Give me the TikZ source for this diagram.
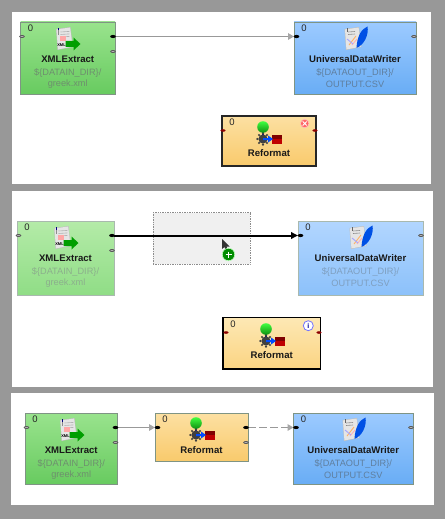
\documentclass[tikz,border=0pt]{standalone}
\usepackage{fontspec}
\setmainfont{Liberation Sans}
\usetikzlibrary{arrows.meta,shapes.geometric}
\definecolor{pagegray}{HTML}{989898}
\definecolor{grA}{HTML}{99E38D}\definecolor{grB}{HTML}{68CB60}
\definecolor{grC}{HTML}{B4EBA8}\definecolor{grD}{HTML}{90DD86}
\definecolor{blA}{HTML}{9CCAFF}\definecolor{blB}{HTML}{69ADF5}
\definecolor{blC}{HTML}{B2D6FF}\definecolor{blD}{HTML}{8CC1FA}
\definecolor{orA}{HTML}{FCE0A2}\definecolor{orB}{HTML}{F9CA6C}
\definecolor{orC}{HTML}{FDE8B4}\definecolor{orD}{HTML}{FBD482}
\definecolor{subgr}{HTML}{6E8F6E}\definecolor{subbl}{HTML}{5F7F9F}
\definecolor{subgrl}{HTML}{8CAF8C}\definecolor{subbll}{HTML}{7F9FBF}
\definecolor{ballgreen}{HTML}{14A814}
\definecolor{edgeA}{HTML}{7F9484}
\definecolor{edgeB}{HTML}{A9B9AE}
\tikzset{
  panel/.style={fill=white,draw=none},
  compbox/.style={draw=#1,line width=.9pt,inner sep=0pt,outer sep=0pt},
  selbox/.style={line width=1.3pt},
  titletxt/.style={font=\fontsize{9.6}{10}\selectfont\bfseries,inner sep=0pt,text=black!90},
  zerotxt/.style={font=\fontsize{9.5}{10}\selectfont,inner sep=0pt,text=black!85},
  subtxt/.style={font=\fontsize{9.2}{10}\selectfont,inner sep=0pt},
  conngray/.style={draw=black!40,line width=1.5pt,-{Triangle[length=6pt,width=6.5pt,color=black!35]}},
  connblack/.style={draw=black,line width=2pt,-{Triangle[length=7pt,width=6.5pt]}},
  conndash/.style={conngray,dash pattern=on 8pt off 3pt},
}
% \comp{id}{x1}{y1}{x2}{y2}{top}{bottom}{border}{title}
\newcommand{\comp}[9]{%
  \pgfmathsetmacro{\cpw}{#4-#2}\pgfmathsetmacro{\cph}{#5-#3}%
  \pgfmathsetmacro{\cpx}{(#2+#4)/2}\pgfmathsetmacro{\cpy}{(#3+#5)/2}%
  \node[compbox=#8,minimum width=\cpw pt,minimum height=\cph pt,top color=#6,bottom color=#7] (#1) at (\cpx,\cpy) {};
  \pgfmathsetmacro{\zx}{#2+10}\pgfmathsetmacro{\zy}{#3+6.7}%
  \node[zerotxt] (#1zero) at (\zx,\zy) {0};
  \pgfmathsetmacro{\ty}{#3+37}%
  \node[titletxt] (#1title) at (\cpx,\ty) {#9};
  \coordinate (#1in) at (#2,#3+14.5);
  \coordinate (#1out) at (#4,#3+14.5);
  \coordinate (#1outb) at (#4,#3+29.5);
}
\newcommand{\subs}[5]{%
  \node[subtxt,text=#5] (#1suba) at (#2,#3+51.5) {#4};
}
\newcommand{\subsb}[5]{%
  \node[subtxt,text=#5] (#1subb) at (#2,#3+62.5) {#4};
}
\newcommand{\portopen}[2]{\draw[black!65,fill=white!70!black,line width=.7pt] (#1) ++(#2,0) ellipse (2.3pt and 1.1pt);}
\newcommand{\portfull}[2]{\fill[black] (#1) ++(#2,0) ellipse (2.8pt and 1.6pt);}
\newcommand{\portred}[2]{\fill[red!55!black] (#1) ++(#2,0) ellipse (2.6pt and 1.3pt);}
% doc background used by both file icons; origin top-centre
\newcommand{\docshape}{%
  \fill[black!25] (-8.5,2) -- (6,0) -- (8.5,20) -- (-7,23) -- cycle;
  \fill[black!10] (-8,2.4) -- (5.6,.6) -- (8,19.6) -- (-6.6,22.4) -- cycle;
}
\newcommand{\xmlicon}[2]{\begin{scope}[shift={(#1,#2)}]
  \docshape
  \fill[black!45] (-7,3) rectangle (-5.5,8);
  \fill[blue!50!black] (-6.8,1) rectangle (-5.8,3.5);
  \foreach \yy in {5,7.5,10} {\draw[black!30,line width=.6pt] (-4,\yy) -- (5,\yy-.6);}
  \fill[red!35] (-5,9) rectangle (1,14);
  \node[inner sep=0pt,font=\fontsize{4}{4}\selectfont\bfseries,text=black] (iconxml) at (-3,18.5) {XML};
  \fill[green!62!black] (1,14) -- (9,14) -- (9,10.5) -- (16,17) -- (9,23.5) -- (9,20) -- (1,20) -- cycle;
\end{scope}}
\newcommand{\wricon}[2]{\begin{scope}[shift={(#1,#2)}]
  \docshape
  \foreach \yy in {5,7.5} {\draw[black!45,line width=.6pt] (-5,\yy) -- (2,\yy-.5);}
  \fill[black!60] (-6,1) rectangle (-5,5);
  \draw[orange!60,line width=.9pt] (-4,18) -- (3,9);
  \draw[red!30,line width=.9pt] (-1,18) -- (4,12);
  \draw[blue!35,line width=.9pt] (-6,12) -- (0,17);
  \fill[blue!65!cyan!90!black] (3.5,21) .. controls (4,10) and (8,2) .. (14.5,-.5) .. controls (16,8) and (11,18) .. (3.5,21) -- cycle;
\end{scope}}
% origin = centre of green ball
\newcommand{\reficon}[2]{\begin{scope}[shift={(#1,#2)}]
  \draw[blue!60!black,line width=1.4pt] (0,4) -- (0,11);
  \fill[black!75] (0,12) circle (4.6pt);
  \foreach \aa in {0,45,...,315} {\fill[black!75] (0,12) ++(\aa:5.6) circle (1.2pt);}
  \shade[top color=green!75!white,bottom color=ballgreen!85!black] (0,0) circle (5.8pt);
  \fill[red!75!black] (9,7.5) rectangle (18.5,17);
  \fill[red!50!black] (9,7.5) rectangle (18.5,11.5);
  \fill[blue!70!cyan] (0,11) -- (5,11) -- (5,8.5) -- (10,12) -- (5,15.5) -- (5,13) -- (0,13) -- cycle;
\end{scope}}
\begin{document}
\begin{tikzpicture}[x=1pt,y=-1pt]
\useasboundingbox (0,0) rectangle (445,519);
\fill[pagegray] (0,0) rectangle (445,519);
\fill[panel] (12.3,12.5) rectangle (431,184);
\fill[panel] (12.3,191) rectangle (432.7,387);
\fill[panel] (11.3,393) rectangle (433.7,505);

% ---- top panel
\comp{xa}{20.5}{22}{115}{94}{grA}{grB}{edgeA}{XMLExtract}
\subs{xa}{67.75}{22}{\$\{DATAIN\_DIR\}/}{subgr}
\subsb{xa}{67.75}{22}{greek.xml}{subgr}
\xmlicon{64.5}{27}
\comp{wa}{294}{22}{416}{94}{blA}{blB}{edgeA}{UniversalDataWriter}
\subs{wa}{355}{22}{\$\{DATAOUT\_DIR\}/}{subbl}
\subsb{wa}{355}{22}{OUTPUT.CSV}{subbl}
\wricon{353}{27}
\comp{ra}{222}{116}{316}{166}{orA}{orB}{black!85,selbox}{Reformat}
\reficon{263}{127}
\draw[conngray] (xaout) -- (wain);
\portopen{xain}{1.5}\portfull{xaout}{-2}\portopen{xaoutb}{-2}
\portfull{wain}{2.5}\portopen{waout}{-2}
\coordinate (rain) at (222,130.5);\coordinate (raout) at (316,130.5);
\portred{rain}{1}\portred{raout}{-1}
\node[circle,fill=red!60!white,draw=red!25!white,line width=.6pt,minimum size=8.5pt,inner sep=0pt] (raerr) at (304.7,123.5) {};
\draw[white,line width=.9pt] (raerr.center) ++(-2,-2) -- ++(4,4) (raerr.center) ++(2,-2) -- ++(-4,4);

% ---- middle panel
\node[draw=black!45,densely dotted,fill=black!6,line width=.7pt,minimum width=97pt,minimum height=51.5pt,inner sep=0pt] (drop) at (201.5,238.4) {};
\comp{xb}{17}{221}{114}{295}{grC}{grD}{edgeB}{XMLExtract}
\subs{xb}{65.5}{221}{\$\{DATAIN\_DIR\}/}{subgrl}
\subsb{xb}{65.5}{221}{greek.xml}{subgrl}
\xmlicon{62.5}{226}
\comp{wb}{298}{221}{423}{295}{blC}{blD}{edgeB}{UniversalDataWriter}
\subs{wb}{360.5}{221}{\$\{DATAOUT\_DIR\}/}{subbll}
\subsb{wb}{360.5}{221}{OUTPUT.CSV}{subbll}
\wricon{358}{226}
\comp{rb}{223}{317.7}{320.5}{369}{orC}{orD}{black,selbox}{Reformat}
\reficon{266}{329}
\draw[connblack] (xbout) -- (wbin);
\portopen{xbin}{1.5}\portfull{xbout}{-2}\portopen{xboutb}{-2}
\portfull{wbin}{2.5}\portopen{wbout}{-2}
\coordinate (rbin) at (223,332.5);\coordinate (rbout) at (320.5,332.5);
\portred{rbin}{3}\portred{rbout}{-1.5}
\node[circle,fill=white,draw=blue!55!white,line width=.8pt,minimum size=10pt,inner sep=0pt,font=\fontsize{7}{7}\selectfont\bfseries,text=blue!60!black] (rbinfo) at (308.3,325.7) {i};
\fill[black!80] (222,239) -- (222,249) -- (224.5,247) -- (226,251) -- (228,250) -- (226.5,246.5) -- (229.5,246.5) -- cycle;
\node[circle,fill=green!55!black,draw=white!75!green,line width=.6pt,minimum size=12.5pt,inner sep=0pt] (plus) at (228.5,254.5) {};
\draw[white,line width=1.3pt] (plus.center) ++(-3,0) -- ++(6,0) (plus.center) ++(0,-3) -- ++(0,6);

% ---- bottom panel
\comp{xc}{25}{413}{117.5}{484}{grA}{grB}{edgeA}{XMLExtract}
\subs{xc}{71.25}{413}{\$\{DATAIN\_DIR\}/}{subgr}
\subsb{xc}{71.25}{413}{greek.xml}{subgr}
\xmlicon{68.5}{418}
\comp{rc}{155}{413}{248}{461.5}{orA}{orB}{edgeA}{Reformat}
\reficon{196}{423}
\comp{wc}{293.5}{413}{413}{484}{blA}{blB}{edgeA}{UniversalDataWriter}
\subs{wc}{353.25}{413}{\$\{DATAOUT\_DIR\}/}{subbl}
\subsb{wc}{353.25}{413}{OUTPUT.CSV}{subbl}
\wricon{351}{418}
\draw[conngray] (xcout) -- (rcin);
\draw[conndash] (rcout) -- (wcin);
\portopen{xcin}{1.5}\portfull{xcout}{-2}\portopen{xcoutb}{-2}
\portfull{rcin}{2.5}\portfull{rcout}{-2}\portopen{rcoutb}{-2}
\portfull{wcin}{2.5}\portopen{wcout}{-2}
\end{tikzpicture}
\end{document}
